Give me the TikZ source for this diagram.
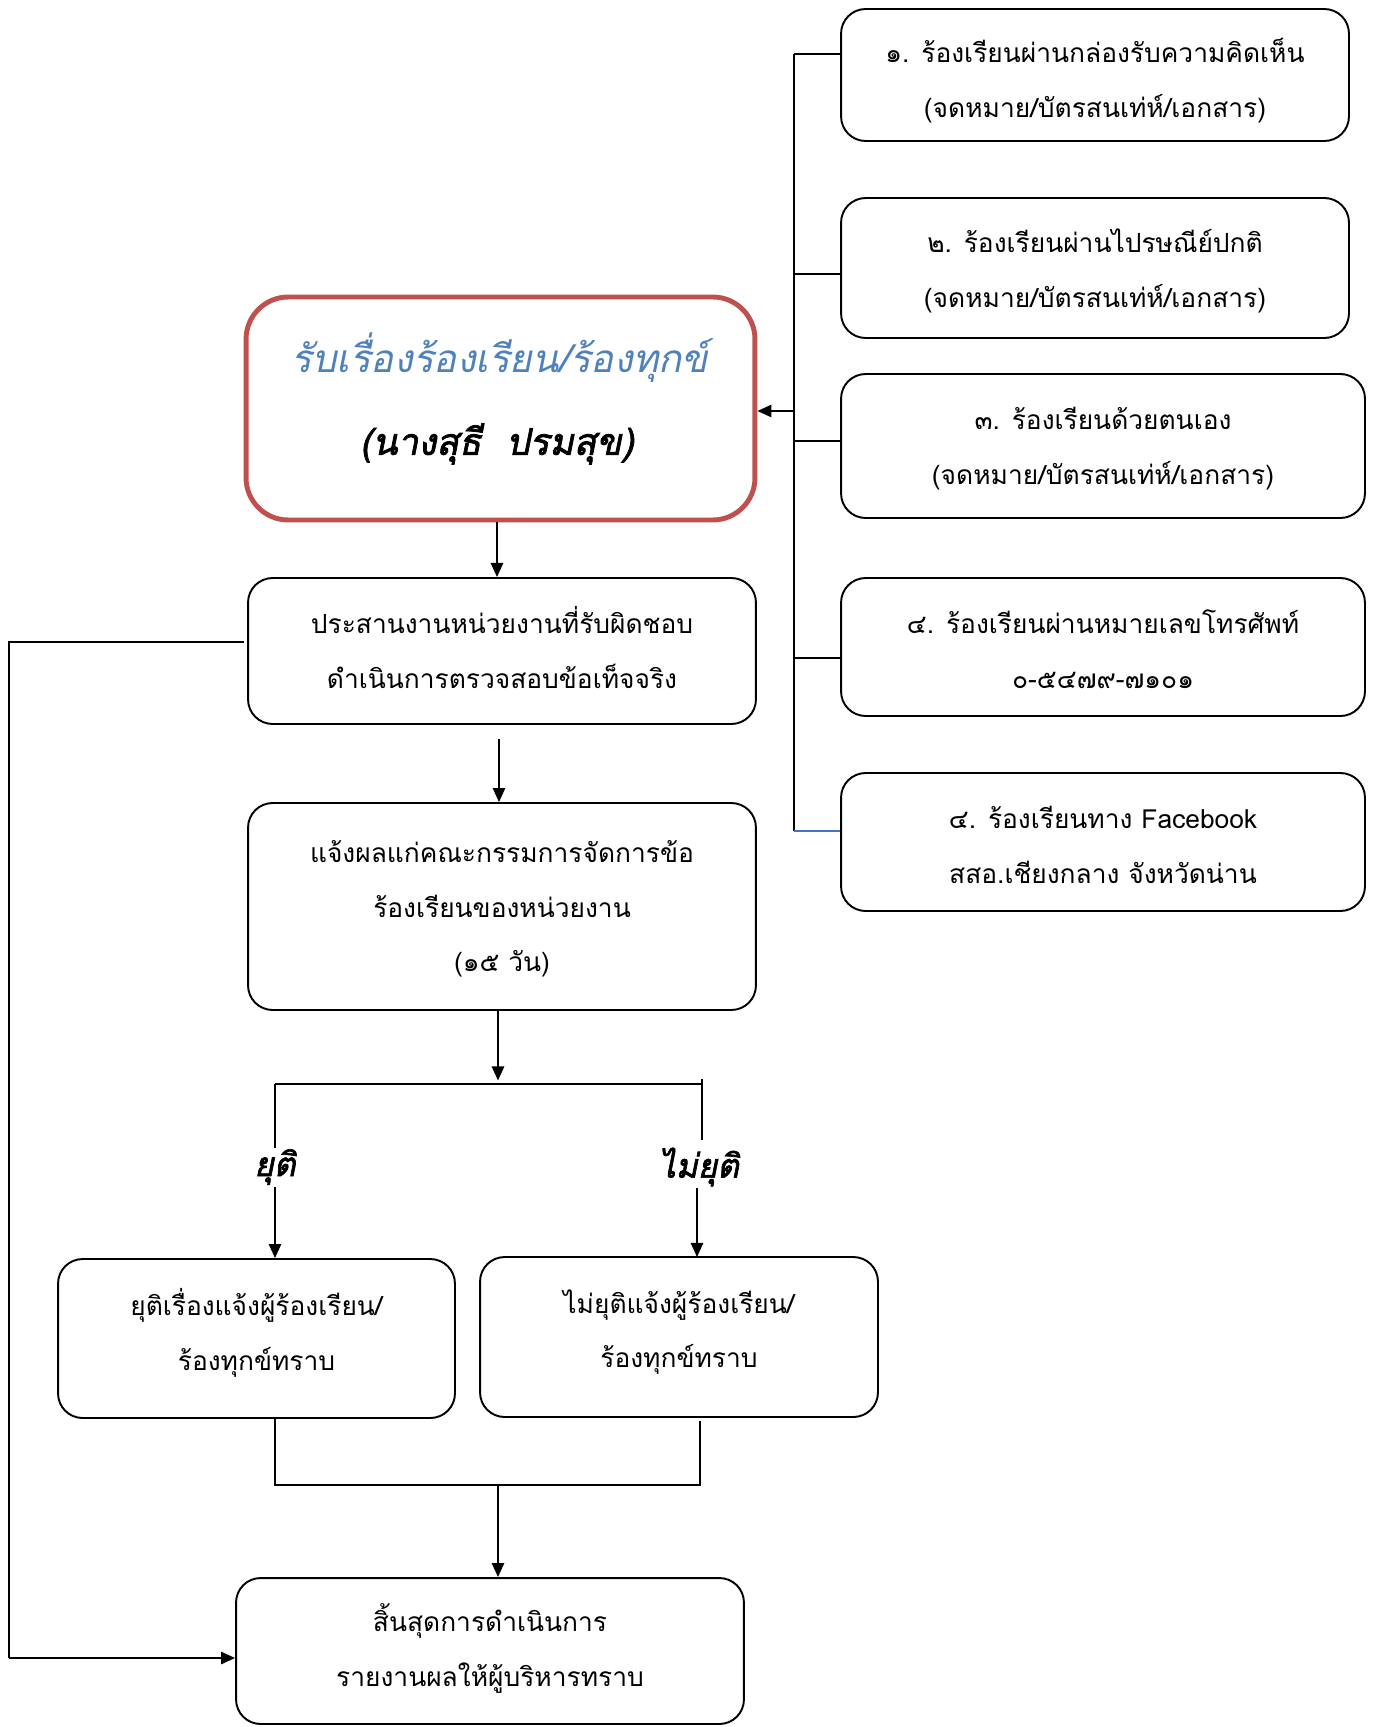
\documentclass[tikz,border=0pt]{standalone}
\usepackage{fontspec}
\newfontfamily\thai[Script=Thai]{Loma}
\newfontfamily\thaiit[Script=Thai,FakeSlant=0.2]{Loma}
\newfontfamily\thaibi[Script=Thai,FakeSlant=0.2,FakeBold=2]{Loma}
\usetikzlibrary{arrows.meta}
\definecolor{redb}{HTML}{C0504D}
\definecolor{bluet}{HTML}{4F81BD}
\definecolor{bluel}{HTML}{4472C4}
\tikzset{
  box/.style={draw, line width=1.1pt, rounded corners=14pt, inner sep=0pt},
  txt/.style={align=center, inner sep=0pt, font=\thai\fontsize{15}{31.2}\selectfont},
  mainbox/.style={draw=redb, line width=2.8pt, rounded corners=24pt, inner sep=0pt},
  ln/.style={line width=1.1pt},
  arr/.style={ln, -{Triangle[length=8pt,width=7pt]}},
  lab/.style={fill=white, inner sep=1pt, font=\thaibi\fontsize{19}{24}\selectfont}
}
\begin{document}
\begin{tikzpicture}[x=0.02cm, y=-0.02cm]
\useasboundingbox (0,0) rectangle (1375,1727);
% right boxes
\node[box, minimum width=10.16cm, minimum height=2.64cm] (b1) at (1095,75) {};
\node[txt] (b1t) at ([yshift=-3.1pt]b1.center)
  {๑. ร้องเรียนผ่านกล่องรับความคิดเห็น\\(จดหมาย/บัตรสนเท่ห์/เอกสาร)};
\node[box, minimum width=10.16cm, minimum height=2.80cm] (b2) at (1095,268) {};
\node[txt] (b2t) at ([yshift=-1.6pt]b2.center)
  {๒. ร้องเรียนผ่านไปรษณีย์ปกติ\\(จดหมาย/บัตรสนเท่ห์/เอกสาร)};
\node[box, minimum width=10.48cm, minimum height=2.88cm] (b3) at (1103,446) {};
\node[txt] (b3t) at ([yshift=-1.3pt]b3.center)
  {๓. ร้องเรียนด้วยตนเอง\\(จดหมาย/บัตรสนเท่ห์/เอกสาร)};
\node[box, minimum width=10.48cm, minimum height=2.76cm] (b4) at (1103,647) {};
\node[txt] (b4t) at ([yshift=-1.3pt]b4.center)
  {๔. ร้องเรียนผ่านหมายเลขโทรศัพท์\\๐-๕๔๗๙-๗๑๐๑};
\node[box, minimum width=10.48cm, minimum height=2.76cm] (b5) at (1103,842) {};
\node[txt] (b5t) at ([yshift=-1.6pt]b5.center)
  {๔. ร้องเรียนทาง Facebook\\สสอ.เชียงกลาง จังหวัดน่าน};
% main box
\node[mainbox, minimum width=10.18cm, minimum height=4.46cm] (main) at (500.5,408.5) {};
\node[inner sep=0pt, font=\thaiit\fontsize{22}{26}\selectfont, text=bluet] (mt1) at (500,358)
  {รับเรื่องร้องเรียน/ร้องทุกข์};
\node[inner sep=0pt, font=\thaibi\fontsize{21}{26}\selectfont] (mt2) at (497,444)
  {(นางสุธี\ \ ปรมสุข)};
% left column
\node[box, minimum width=10.16cm, minimum height=2.92cm] (A) at (502,651) {};
\node[txt] (At) at ([yshift=2.2pt]A.center)
  {ประสานงานหน่วยงานที่รับผิดชอบ\\ดำเนินการตรวจสอบข้อเท็จจริง};
\node[box, minimum width=10.16cm, minimum height=4.14cm] (B) at (502,906.5) {};
\node[txt] (Bt) at ([yshift=-1.3pt]B.center)
  {แจ้งผลแก่คณะกรรมการจัดการข้อ\\ร้องเรียนของหน่วยงาน\\(๑๕ วัน)};
\node[box, minimum width=7.94cm, minimum height=3.18cm] (C) at (256.5,1338.5) {};
\node[txt] (Ct) at ([yshift=3.1pt]C.center)
  {ยุติเรื่องแจ้งผู้ร้องเรียน/\\ร้องทุกข์ทราบ};
\node[box, minimum width=7.96cm, minimum height=3.20cm] (D) at (679,1337) {};
\node[txt] (Dt) at ([yshift=2.8pt]D.center)
  {ไม่ยุติแจ้งผู้ร้องเรียน/\\ร้องทุกข์ทราบ};
\node[box, minimum width=10.16cm, minimum height=2.92cm] (E) at (490,1651) {};
\node[txt] (Et) at ([yshift=1.6pt]E.center)
  {สิ้นสุดการดำเนินการ\\รายงานผลให้ผู้บริหารทราบ};

% bus on the right
\coordinate (bt) at (794,54);
\coordinate (bb) at (794,831);
\coordinate (bin) at (794,411);
\draw[ln] (bt) -- (bb);
\draw[ln] (bt) -- (bt -| b1.west);
\draw[ln] (794,274) -- (b2.west |- 0,274);
\draw[ln] (794,441) -- (b3.west |- 0,441);
\draw[ln] (794,658) -- (b4.west |- 0,658);
\draw[ln, bluel] (bb) -- (bb -| b5.west);
\draw[arr] (bin) -- (bin -| main.east);

% main flow
\coordinate (xa) at (497,0);
\draw[arr] (xa |- main.south) -- (xa |- A.north);
\coordinate (xb) at (499,739);
\draw[arr] (xb) -- (xb |- B.north);
\coordinate (J) at (498,1084);
\draw[arr] (J |- B.south) -- ([yshift=2pt]J);
\coordinate (JL) at (275,1084);
\coordinate (JR) at (702,1084);
\draw[ln] (JL) -- (JR);
\draw[ln] (702,1079) -- (702,1140);
\draw[arr] (JL) -- (JL |- C.north);
\draw[arr] (697,1160) -- (697,1257);
\node[lab] (yuti) at (275,1167) {ยุติ};
\node[lab] (maiyuti) at (699,1167) {ไม่ยุติ};

% merge
\coordinate (ML) at (275,1485);
\coordinate (MR) at (700,1485);
\coordinate (M) at (498,1485);
\draw[ln] (ML |- C.south) -- (ML) -- (MR) -- (700,1421);
\draw[arr] (M) -- (M |- E.north);

% loop on the left
\coordinate (L1) at (9,642);
\coordinate (L2) at (9,1658);
\draw[ln] ([xshift=-2pt]A.west |- L1) -- (L1) -- (L2);
\draw[arr] (L2) -- (L2 -| E.west);
\end{tikzpicture}
\end{document}
